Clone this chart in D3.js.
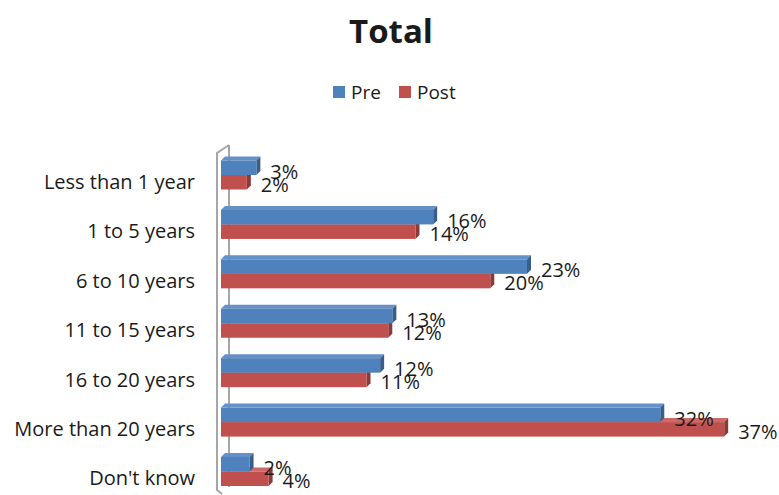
<!DOCTYPE html>
<html><head><meta charset="utf-8">
<script src="https://cdn.jsdelivr.net/npm/d3@7"></script>
<style>body{margin:0;background:#fff}svg{display:block}</style>
</head><body>
<script>
const categories = ["Less than 1 year","1 to 5 years","6 to 10 years","11 to 15 years","16 to 20 years","More than 20 years","Don't know"];
const preValues  = [2.6, 15.6, 22.5, 12.6, 11.7, 32.3, 2.1];
const postValues = [1.9, 14.3, 19.8, 12.3, 10.7, 37.0, 3.5];
const preLabels  = ["3%","16%","23%","13%","12%","32%","2%"];
const postLabels = ["2%","14%","20%","12%","11%","37%","4%"];
const seriesNames = ["Pre","Post"];

const W = 779, H = 495;
const svg = d3.select("body").append("svg").attr("width", W).attr("height", H);
const font = "'Open Sans', Lato, sans-serif";

const x = d3.scaleLinear().domain([0, 40]).range([221, 765]);
const y = d3.scaleBand().domain(categories).range([150.3, 496.2]).padding(0);
const step = y.bandwidth();
const bh = 14.5, d = 4;

const colors = {
  Pre:  {front:"#4F81BD", top:"#6690C8", side:"#385E8C"},
  Post: {front:"#C0504D", top:"#CD6966", side:"#8C3A38"}
};

// Title
svg.append("text").attr("x", 391).attr("y", 43).attr("text-anchor","middle")
  .attr("font-family", font).attr("font-weight","bold").attr("font-size", 33).attr("fill","#1a1a1a").text("Total");

// Legend
const lg = svg.append("g");
const legendPos = [{name:"Pre", sx:333, tx:351},{name:"Post", sx:399, tx:417}];
legendPos.forEach(p => {
  lg.append("rect").attr("x", p.sx).attr("y", 86).attr("width", 12).attr("height", 12).attr("fill", colors[p.name].front);
  lg.append("text").attr("x", p.tx).attr("y", 92).attr("dominant-baseline","central")
    .attr("font-family", font).attr("font-size", 19).attr("fill","#1a1a1a").text(p.name);
});

// Wall back line (behind bars)
svg.append("path").attr("d", "M229,145 L229,487").attr("stroke","#A6A6A6").attr("stroke-width",2).attr("fill","none");
// Wall front line
svg.append("path").attr("d", "M229,145 L217,153 L217,490 L222,494").attr("stroke","#A6A6A6").attr("stroke-width",2).attr("fill","none");

function bar3d(g, x0, x1, y0, c) {
  g.append("path").attr("d", `M${x0},${y0} L${x0+d},${y0-d} L${x1+d},${y0-d} L${x1},${y0} Z`).attr("fill", c.top);
  g.append("path").attr("d", `M${x1},${y0} L${x1+d},${y0-d} L${x1+d},${y0+bh-d} L${x1},${y0+bh} Z`).attr("fill", c.side);
  g.append("rect").attr("x", x0).attr("y", y0).attr("width", x1-x0).attr("height", bh).attr("fill", c.front);
}

const bars = svg.append("g");
categories.forEach((cat, i) => {
  const mid = y(cat) + step/2;
  bar3d(bars, x(0), x(postValues[i]), mid, colors.Post);
  bar3d(bars, x(0), x(preValues[i]), mid - bh, colors.Pre);
});

// Category labels
svg.append("g").selectAll("text").data(categories).join("text")
  .attr("x", 195).attr("y", c => y(c) + step/2 + 6.5).attr("text-anchor","end").attr("dominant-baseline","central")
  .attr("font-family", font).attr("font-size", 20).attr("fill","#1a1a1a").text(c => c);

// Data labels
const dl = svg.append("g").attr("font-family", font).attr("font-size", 20).attr("fill","#1a1a1a");
categories.forEach((cat, i) => {
  const mid = y(cat) + step/2;
  dl.append("text").attr("x", x(preValues[i]) + 14).attr("y", mid - 4).attr("dominant-baseline","central").text(preLabels[i]);
  dl.append("text").attr("x", x(postValues[i]) + 14).attr("y", mid + 9).attr("dominant-baseline","central").text(postLabels[i]);
});
</script>
</body></html>
